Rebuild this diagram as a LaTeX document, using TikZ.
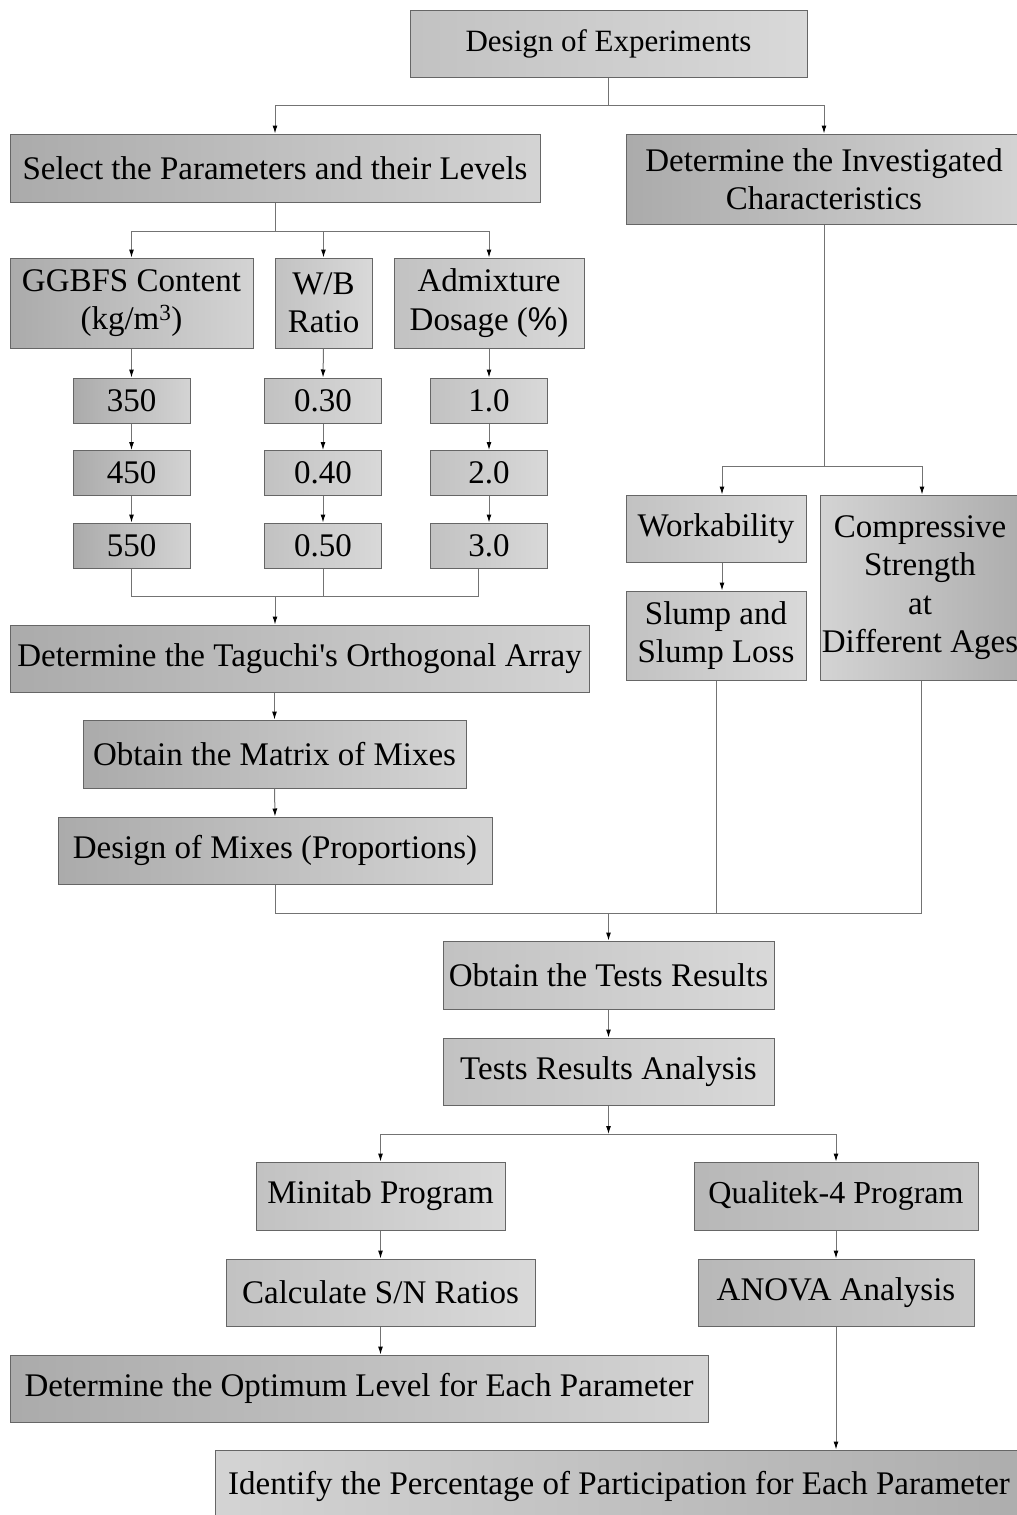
\documentclass[tikz,border=0pt]{standalone}
\usepackage{fontspec}
\setmainfont{Liberation Serif}
\newfontfamily\sansf{Liberation Sans}
\usetikzlibrary{arrows.meta}
\tikzset{
  base/.style={draw=black!60, line width=1pt, inner sep=0pt, align=center,
    font=\fontsize{33}{38.5}\selectfont, text=black},
  gbox/.style={base, left color=black!33, right color=black!17},
  lbox/.style={base, left color=black!24, right color=black!15},
  mbox/.style={base, left color=black!28, right color=black!21},
  rbox/.style={base, left color=black!17, right color=black!32},
  ln/.style={draw=black!55, line width=1pt},
  arr/.style={ln, -{Latex[length=8pt,width=5pt,color=black]}},
}
\begin{document}
\begin{tikzpicture}[x=1pt,y=-1pt]
\useasboundingbox (0,0) rectangle (1017,1515);
\clip (0,0) rectangle (1017,1515);
% top
\node[lbox, minimum width=397pt, minimum height=67pt, font=\fontsize{31}{36}\selectfont] (doe) at (608.5,43.5) {Design of Experiments};
\node[gbox, minimum width=530pt, minimum height=68pt] (sel) at (275,168) {Select the Parameters and their Levels};
\node[gbox, minimum width=396pt, minimum height=90pt] (det) at (824,179) {Determine the Investigated\\Characteristics};
% parameters
\node[gbox, minimum width=243pt, minimum height=90pt] (gg) at (131.5,303) {GGBFS Content\\(kg/m\textsuperscript{3})};
\node[lbox, minimum width=97pt, minimum height=90pt] (wb) at (323.5,303) {W/B\\Ratio};
\node[lbox, minimum width=190pt, minimum height=90pt] (adm) at (489,303) {Admixture\\Dosage ({\sansf\%})};
% levels
\node[gbox, minimum width=117pt, minimum height=45pt] (l350) at (131.5,400.5) {350};
\node[gbox, minimum width=117pt, minimum height=45pt] (l450) at (131.5,473) {450};
\node[gbox, minimum width=117pt, minimum height=45pt] (l550) at (131.5,545.5) {550};
\node[lbox, minimum width=117pt, minimum height=45pt] (l030) at (323,400.5) {0.30};
\node[lbox, minimum width=117pt, minimum height=45pt] (l040) at (323,473) {0.40};
\node[lbox, minimum width=117pt, minimum height=45pt] (l050) at (323,545.5) {0.50};
\node[lbox, minimum width=117pt, minimum height=45pt] (l1) at (489,400.5) {1.0};
\node[lbox, minimum width=117pt, minimum height=45pt] (l2) at (489,473) {2.0};
\node[lbox, minimum width=117pt, minimum height=45pt] (l3) at (489,545.5) {3.0};
% left chain
\node[gbox, minimum width=579pt, minimum height=67pt] (tag) at (299.5,658.5) {Determine the Taguchi\textquotesingle s Orthogonal Array};
\node[gbox, minimum width=383pt, minimum height=68pt] (mat) at (274.5,754) {Obtain the Matrix of Mixes};
\node[gbox, minimum width=434pt, minimum height=67pt] (dom) at (275,850.5) {Design of Mixes (Proportions)};
% right chain
\node[lbox, minimum width=180pt, minimum height=67pt] (wk) at (716,528.5) {Workability};
\node[lbox, minimum width=180pt, minimum height=89pt] (sl) at (716,635.5) {Slump and\\Slump Loss};
\node[rbox, minimum width=200pt, minimum height=185pt] (cs) at (920,587.5) {Compressive\\Strength\\at\\Different Ages};
% results
\node[lbox, minimum width=331pt, minimum height=68pt] (tr) at (608.5,975) {Obtain the Tests Results};
\node[lbox, minimum width=331pt, minimum height=67pt] (ta) at (608.5,1071.5) {Tests Results Analysis};
\node[lbox, minimum width=249pt, minimum height=68pt] (mt) at (380.5,1196) {Minitab Program};
\node[mbox, minimum width=284pt, minimum height=68pt, font=\fontsize{32}{37}\selectfont] (qk) at (836,1196) {Qualitek-4 Program};
\node[lbox, minimum width=309pt, minimum height=67pt] (sn) at (380.5,1292.5) {Calculate S/N Ratios};
\node[mbox, minimum width=276pt, minimum height=67pt] (an) at (836,1292.5) {ANOVA Analysis};
\node[gbox, minimum width=698pt, minimum height=67pt] (opt) at (359,1388.5) {Determine the Optimum Level for Each Parameter};
\node[rbox, minimum width=808pt, minimum height=72pt] (id) at (619,1486) {Identify the Percentage of Participation for Each Parameter};
% junction coordinates
\coordinate (j1) at (608.5,105);
\coordinate (j2) at (275,231);
\coordinate (j3) at (275,596);
\coordinate (j3a) at (131.5,596);
\coordinate (j3c) at (478,596);
\coordinate (j4) at (824,466);
\coordinate (j4a) at (722,466);
\coordinate (j4b) at (922,466);
\coordinate (j5) at (608.5,913);
\coordinate (j5a) at (275,913);
\coordinate (j5c) at (921,913);
\coordinate (j6) at (608.5,1134);
% connectors
\draw[ln] (doe.south) -- (j1);
\draw[arr] (j1) -| (sel.north);
\draw[arr] (j1) -| (det.north);
\draw[ln] (sel.south) -- (j2);
\draw[arr] (j2) -| (gg.north);
\draw[arr] (j2) -| (wb.north);
\draw[arr] (j2) -| (adm.north);
\draw[arr] (gg.south) -- (l350.north);
\draw[arr] (l350.south) -- (l450.north);
\draw[arr] (l450.south) -- (l550.north);
\draw[arr] (wb.south) -- (l030.north);
\draw[arr] (l030.south) -- (l040.north);
\draw[arr] (l040.south) -- (l050.north);
\draw[arr] (adm.south) -- (l1.north);
\draw[arr] (l1.south) -- (l2.north);
\draw[arr] (l2.south) -- (l3.north);
\draw[ln] (l550.south) -- (j3a) -- (j3c) -- (j3c |- l3.south);
\draw[ln] (l050.south) -- (l050.south |- j3a);
\draw[arr] (j3) -- (j3 |- tag.north);
\draw[arr] (mat.north |- tag.south) -- (mat.north);
\draw[arr] (mat.south) -- (dom.north);
\draw[ln] (det.south) -- (j4);
\draw[ln] (j4a) -- (j4b);
\draw[arr] (j4a) -- (j4a |- wk.north);
\draw[arr] (j4b) -- (j4b |- cs.north);
\draw[arr] (j4a |- wk.south) -- (j4a |- sl.north);
\draw[ln] (dom.south) -- (j5a) -- (j5c) -- (j5c |- cs.south);
\draw[ln] (sl.south) -- (sl.south |- j5a);
\draw[arr] (j5) -- (tr.north);
\draw[arr] (tr.south) -- (ta.north);
\draw[arr] (ta.south) -- (j6);
\draw[arr] (j6) -| (mt.north);
\draw[arr] (j6) -| (qk.north);
\draw[arr] (mt.south) -- (sn.north);
\draw[arr] (sn.south) -- (sn.south |- opt.north);
\draw[arr] (qk.south) -- (an.north);
\draw[arr] (an.south) -- (an.south |- id.north);
\end{tikzpicture}
\end{document}
